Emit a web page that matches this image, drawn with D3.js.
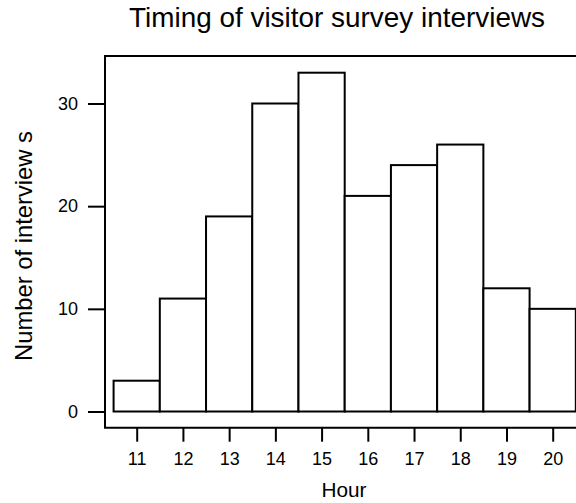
<!DOCTYPE html>
<html><head><meta charset="utf-8">
<script src="https://cdn.jsdelivr.net/npm/d3@7"></script>
<style>body{margin:0;background:#fff;} svg{display:block;}</style>
</head><body>
<svg id="c" width="576" height="503"></svg>
<script>
const hours = [11,12,13,14,15,16,17,18,19,20];
const counts = [3,11,19,30,33,21,24,26,12,10];
const yTicks = [0,10,20,30];
const title = "Timing of visitor survey interviews";
const xLabel = "Hour";
const yLabel = "Number of interview s";

const FONT = "Liberation Sans, Arial, sans-serif";
const svg = d3.select("#c");
const x = d3.scaleLinear().domain([11,20]).range([136.7,552.7]);
const y = d3.scaleLinear().domain([0,30]).range([411.5,103.5]);

// frame
svg.append("path")
  .attr("d", `M590,56 H105 V427.7 H590`)
  .attr("fill","none").attr("stroke","#000").attr("stroke-width",2);

// bars
svg.append("g").selectAll("rect").data(hours).join("rect")
  .attr("x", (d)=>x(d-0.5))
  .attr("width", (d)=>x(d+0.5)-x(d-0.5))
  .attr("y", (d,i)=>y(counts[i]))
  .attr("height", (d,i)=>y(0)-y(counts[i]))
  .attr("fill","#fff").attr("stroke","#000").attr("stroke-width",2);

// y axis
const yAxis = svg.append("g").attr("transform","translate(105,0)")
  .call(d3.axisLeft(y).tickValues(yTicks).tickSize(17).tickPadding(10).tickFormat(d3.format("d")));
yAxis.select(".domain").remove();
yAxis.selectAll("line").attr("stroke","#000").attr("stroke-width",2);
yAxis.selectAll("text").attr("font-family",FONT).attr("font-size",18).attr("fill","#000");

// x axis
const xAxis = svg.append("g").attr("transform","translate(0,427.7)")
  .call(d3.axisBottom(x).tickValues(hours).tickSize(14).tickPadding(11).tickFormat(d3.format("d")));
xAxis.select(".domain").remove();
xAxis.selectAll("line").attr("stroke","#000").attr("stroke-width",2);
xAxis.selectAll("text").attr("font-family",FONT).attr("font-size",18).attr("fill","#000");

// titles
svg.append("text").attr("x",337).attr("y",27).attr("text-anchor","middle")
  .attr("font-family",FONT).attr("font-size",28).attr("fill","#000")
  .attr("textLength",416).attr("lengthAdjust","spacingAndGlyphs").text(title);
svg.append("text").attr("x",344).attr("y",497).attr("text-anchor","middle")
  .attr("font-family",FONT).attr("font-size",21).attr("fill","#000")
  .attr("textLength",45).attr("lengthAdjust","spacingAndGlyphs").text(xLabel);
svg.append("text").attr("transform","translate(31.5,246) rotate(-90)").attr("text-anchor","middle")
  .attr("font-family",FONT).attr("font-size",24).attr("fill","#000")
  .attr("textLength",230).attr("lengthAdjust","spacingAndGlyphs").text(yLabel);
</script>
</body></html>
